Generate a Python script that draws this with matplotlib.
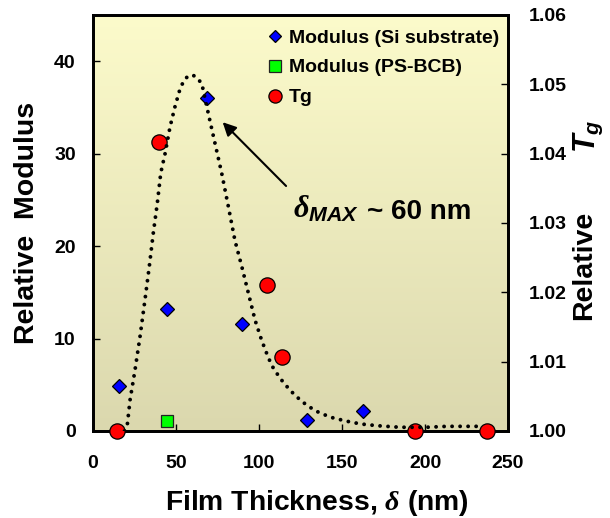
import numpy as np
import matplotlib
matplotlib.use('Agg')
import matplotlib.pyplot as plt
from matplotlib.lines import Line2D
from matplotlib.ticker import FormatStrFormatter

plt.rcParams['font.family'] = ['Liberation Sans', 'DejaVu Sans']
plt.rcParams['font.weight'] = 'bold'
plt.rcParams['axes.labelweight'] = 'bold'
plt.rcParams['mathtext.fontset'] = 'custom'
plt.rcParams['mathtext.rm'] = 'Liberation Sans:bold'
plt.rcParams['mathtext.it'] = 'Liberation Serif:italic'
plt.rcParams['mathtext.bf'] = 'Liberation Sans:bold'
plt.rcParams['mathtext.sf'] = 'Liberation Sans:bold:italic'

# ---- data ----
mod_si_x = [15.7, 44.8, 68.5, 90.0, 128.7, 162.9]
mod_si_y = [4.9, 13.2, 36.0, 11.6, 1.2, 2.2]
mod_ps_x = [44.6]
mod_ps_y = [1.1]
tg_x = [14.7, 39.8, 104.8, 114.0, 194.0, 237.6]
tg_y = [1.000, 1.0417, 1.021, 1.0106, 1.000, 1.000]
fit_x = [19, 20.7, 22.3, 25.3, 28.3, 31.3, 33.9, 36.3, 38.7, 40.8, 43.4, 46.4,
         49.4, 52.4, 55.0, 57.4, 60.0, 62.0, 65.5, 69.5, 73.5, 77.5, 81.5, 85.5,
         89.6, 93.6, 97.6, 101.6, 104.6, 107.6, 112.7, 118.7, 125.7, 133.7,
         142.8, 152.2, 161.2, 171.2, 185.0, 201.0, 213.0, 229.0, 235.0]
fit_y = [0.0, 0.76, 3.35, 6.6, 10.2, 14.2, 17.8, 21.4, 24.6, 27.9, 30.0, 32.9,
         35.1, 37.0, 38.0, 38.4, 38.5, 38.3, 37.6, 34.3, 31.1, 27.9, 24.3, 20.6,
         17.8, 14.9, 12.0, 9.8, 8.4, 7.1, 5.7, 4.4, 3.2, 2.2,
         1.5, 1.08, 0.76, 0.57, 0.4, 0.4, 0.5, 0.5, 0.5]
x_ticks = [0, 50, 100, 150, 200, 250]
y_ticks = [0, 10, 20, 30, 40]
tg_ticks = [1.00, 1.01, 1.02, 1.03, 1.04, 1.05, 1.06]
labels = ['Modulus (Si substrate)', 'Modulus (PS-BCB)', 'Tg']

fig = plt.figure(figsize=(6.1, 5.18), dpi=100)
ax = fig.add_axes([0.1525, 0.1680, 0.6803, 0.8031])
ax2 = ax.twinx()

# background gradient
t = np.linspace(0, 1, 256)[:, None, None]
top = np.array([252, 251, 203]) / 255.0
bot = np.array([219, 216, 174]) / 255.0
img = top * (1 - t) + bot * t
ax.imshow(img, extent=[0, 1, 0, 1], transform=ax.transAxes, aspect='auto',
          zorder=0, interpolation='bilinear')

ax.plot(mod_si_x, mod_si_y, 'D', ms=7.5, mfc='#0000FF', mec='black', mew=0.9,
        ls='none', zorder=3)
ax.plot(mod_ps_x, mod_ps_y, 's', ms=8.6, mfc='#00FF00', mec='#222222', mew=0.9,
        ls='none', zorder=3)
ax2.plot(tg_x, tg_y, 'o', ms=11, mfc='#FF0000', mec='black', mew=0.9,
         ls='none', zorder=3, clip_on=False)
ax2.plot(fit_x, fit_y, transform=ax.transData, ls=(0, (0.01, 2.05)), lw=2.8,
         color='black', dash_capstyle='round', zorder=5)

ax.set_xlim(0, 250)
ax.set_ylim(0, 45)
ax2.set_ylim(1.0, 1.06)
ax.set_xticks(x_ticks)
ax.set_yticks(y_ticks)
ax2.set_yticks(tg_ticks)
ax2.yaxis.set_major_formatter(FormatStrFormatter('%.2f'))

ax.tick_params(axis='both', direction='in', length=5, width=1, labelsize=14)
ax.tick_params(axis='x', pad=17, top=False)
ax.tick_params(axis='y', pad=12.5, right=False)
ax2.tick_params(axis='y', direction='in', length=5, width=1, labelsize=14, pad=15)
for a in (ax, ax2):
    for s in a.spines.values():
        s.set_linewidth(2)

ax.set_xlabel('Film Thickness, $\\delta$ (nm)', fontsize=20.3, fontweight='bold')
ax.xaxis.set_label_coords(0.54, -0.137)
ax.set_ylabel('Relative  Modulus', fontsize=20.5, fontweight='bold')
ax.yaxis.set_label_coords(-0.128, 0.5)
ax2.set_ylabel('Relative', fontsize=20.5, fontweight='bold')
ax2.yaxis.set_label_coords(1.152, 0.397)
ax2.text(1.193, 0.709, '$\\mathsf{T}_{\\mathsf{g}}$', transform=ax2.transAxes,
         fontsize=22, rotation=90, ha='center', va='center')

ax.annotate('', xy=(78.1, 33.4), xytext=(116.3, 26.5),
            arrowprops=dict(arrowstyle='-|>', color='black', lw=1.5,
                            mutation_scale=20, shrinkA=0, shrinkB=0))
ax.text(120.5, 23.1, r'$\delta_{\mathsf{MAX}}$', fontsize=22, ha='left', va='baseline')
ax.text(165.1, 22.9, '~ 60 nm', fontsize=20, ha='left', va='baseline')

handles = [Line2D([], [], marker='D', ms=6.2, mfc='#0000FF', mec='black', mew=0.9, ls='none'),
           Line2D([], [], marker='s', ms=8.6, mfc='#00FF00', mec='#222222', mew=0.9, ls='none'),
           Line2D([], [], marker='o', ms=9.5, mfc='#FF0000', mec='black', mew=0.9, ls='none')]
ax2.legend(handles, labels, loc='upper left', bbox_to_anchor=(0.438, 0.944),
           bbox_transform=fig.transFigure, frameon=False, fontsize=14,
           handlelength=0.8, handletextpad=0.3, labelspacing=0.63,
           borderpad=0, borderaxespad=0)

fig.savefig('out.png', dpi=100)
